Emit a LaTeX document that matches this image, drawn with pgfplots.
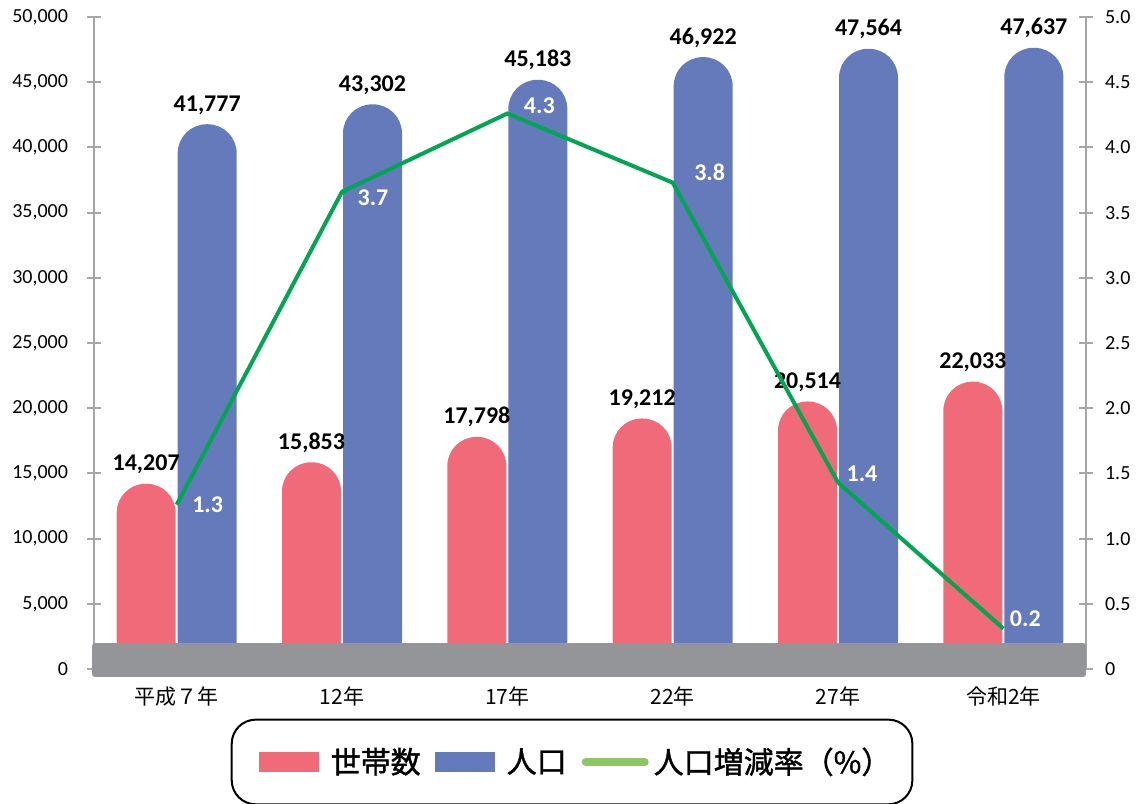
\documentclass[border=0pt]{standalone}
\usepackage{pgfplots}
\pgfplotsset{compat=1.18}
\usepackage{pgfplotstable}
\usepackage{fontspec}
\setmainfont{Carlito}
\newfontfamily\cjk{Noto Sans CJK JP}
\newfontfamily\cjkheavy{Noto Sans CJK JP}[FakeBold=1.2]

\definecolor{hhpink}{RGB}{241,106,121}
\definecolor{popblue}{RGB}{101,122,187}
\definecolor{bandgray}{RGB}{147,149,152}
\definecolor{axgray}{RGB}{166,166,166}
\definecolor{rategreen}{RGB}{0,166,81}
\definecolor{leggreen}{RGB}{141,198,99}

% households / population
\pgfplotstableread{
x hh pop
0 14207 41777
1 15853 43302
2 17798 45183
3 19212 46922
4 20514 47564
5 22033 47637
}\households

% growth rate, label text and label offsets (pt)
\pgfplotstableread{
x rate lab dx dy
0 1.26 1.3 15.5 0
1 3.66 3.7 15.5 -2.75
2 4.26 4.3 16 4
3 3.73 3.8 18.5 5
4 1.43 1.4 12 4.25
5 0.31 0.2 11 4.75
}\ratetab

\begin{document}
\begin{tikzpicture}
\pgfplotsset{
  common/.style={
    width=496pt, height=326pt, scale only axis,
    at={(0,0)}, anchor=south west,
    xmin=-0.5, xmax=5.5,
    axis line style={-, draw=axgray, line width=1pt},
    ytick style={draw=axgray, line width=1pt},
    tick align=center, major tick length=7pt,
  }
}
\begin{axis}[common,
  ymin=0, ymax=50000, ytick={0,5000,...,50000},
  axis y line*=left, axis x line*=bottom,
  x axis line style={draw=none},
  yticklabel style={font=\fontsize{10}{12}\selectfont, xshift=-6pt},
  xtick={0,...,5}, xtick style={draw=none},
  xticklabels={平成７年,12年,17年,22年,27年,令和2年},
  xticklabel style={font=\cjk\fontsize{10.5}{12}\selectfont, yshift=1.5pt},
  scaled y ticks=false,
  /pgf/number format/1000 sep={,},
  /pgf/number format/assume math mode=true,
  ybar=1pt, bar width=29.5pt,
  nodes near coords,
  nodes near coords style={font=\bfseries\fontsize{12}{14}\selectfont, anchor=base, yshift=6.5pt, text=black},
]
\addplot[fill=hhpink, draw=none, rounded corners=14.5pt] table[x=x,y=hh]{\households};
\addplot[fill=popblue, draw=none, rounded corners=14.5pt] table[x=x,y=pop]{\households};
\end{axis}

\begin{axis}[common,
  ymin=0, ymax=5,
  ytick={0,0.5,1,1.5,2,2.5,3,3.5,4,4.5,5},
  yticklabels={0,0.5,1.0,1.5,2.0,2.5,3.0,3.5,4.0,4.5,5.0},
  yticklabel style={font=\fontsize{10}{12}\selectfont, xshift=2.5pt},
  axis y line*=right, axis x line=none,
  clip=false,
  legend columns=3,
  legend style={at={(0.4819,-0.1426)}, anchor=center, draw=black, line width=1pt,
    rounded corners=12pt, inner xsep=8.5pt, inner ysep=12pt,
    font=\cjkheavy\fontsize{15}{17}\selectfont},
]
\addlegendimage{legend image code/.code={
  \path (-5pt,0pt) (33pt,0pt);
  \fill[hhpink, sharp corners] (0pt,-4.5pt) rectangle (29pt,4.5pt);}}
\addlegendentry{世帯数}
\addlegendimage{legend image code/.code={
  \path (-5pt,0pt) (33pt,0pt);
  \fill[popblue, sharp corners] (0pt,-4.5pt) rectangle (29pt,4.5pt);}}
\addlegendentry{人口}
\addlegendimage{legend image code/.code={
  \path (-5pt,0pt) (33.5pt,0pt);
  \draw[leggreen, line width=4pt, line cap=round, sharp corners] (2pt,0pt) -- (31.5pt,0pt);}}
\addlegendentry{人口増減率（\%）}
\addplot[rategreen, line width=2pt, forget plot, mark=none,
  nodes near coords, point meta=explicit symbolic,
  visualization depends on={\thisrow{dx} \as \ldx},
  visualization depends on={\thisrow{dy} \as \ldy},
  nodes near coords style={font=\bfseries\fontsize{12}{14}\selectfont, text=white,
    anchor=center, xshift=\ldx pt, yshift=\ldy pt}]
  table[x=x, y=rate, meta=lab]{\ratetab};
\fill[bandgray, rounded corners=1.5pt] (axis cs:-0.512,-0.0613) rectangle (axis cs:5.5,0.1994);
\end{axis}

\pgfresetboundingbox
\path[use as bounding box] (-47pt,-67pt) rectangle (522pt,334.5pt);
\end{tikzpicture}
\end{document}
